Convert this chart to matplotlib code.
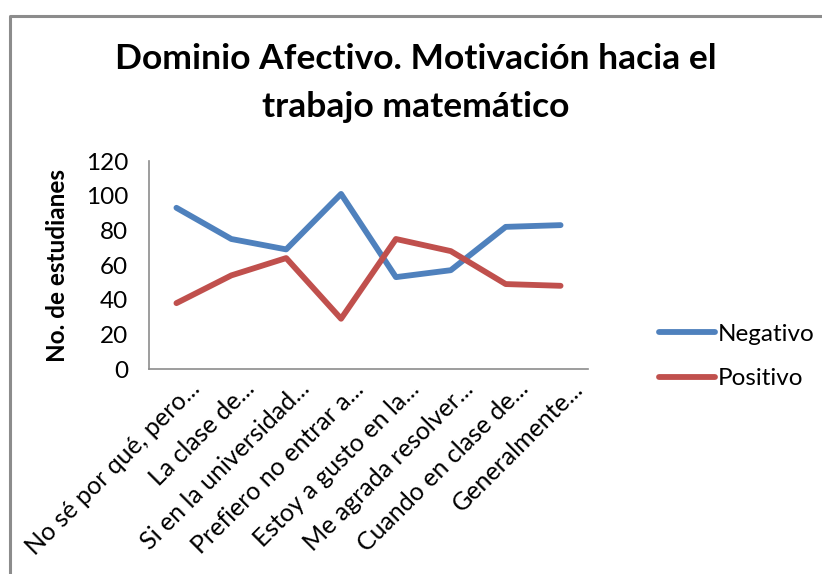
import matplotlib.pyplot as plt
from matplotlib.lines import Line2D
from matplotlib.transforms import ScaledTranslation

categorias = ['No sé por qué, pero...', 'La clase de...', 'Si en la universidad...',
              'Prefiero no entrar a...', 'Estoy a gusto en la...', 'Me agrada resolver...',
              'Cuando en clase de...', 'Generalmente...']
negativo = [93, 75, 69, 101, 53, 57, 82, 83]
positivo = [38, 54, 64, 29, 75, 68, 49, 48]

plt.rcParams['font.family'] = ['Lato', 'DejaVu Sans']

fig = plt.figure(figsize=(8.22, 5.74), dpi=100)
# borde del área del gráfico (solo se ve arriba y a la izquierda)
x0, y0 = 9.5 / 822, 1 - 15.5 / 574
fig.lines.append(Line2D([x0, x0, 1.0], [0.0, y0, y0], transform=fig.transFigure,
                        color='#8c8c8c', lw=2.2))

ax = fig.add_axes([149 / 822, 1 - 369 / 574, 439 / 822, 208 / 574])
x = range(len(categorias))
ax.plot(x, negativo, color='#4F81BD', lw=4.2, solid_capstyle='round', label='Negativo')
ax.plot(x, positivo, color='#C0504D', lw=4.2, solid_capstyle='round', label='Positivo')

ax.set_xlim(-0.5, len(categorias) - 0.5)
ax.set_ylim(0, 120)
ax.set_yticks(range(0, 121, 20))
ax.set_xticks(list(x))
ax.set_xticklabels([])
# etiquetas del eje x giradas, con su propio desplazamiento
desplaza = ScaledTranslation(11 / 100, -8 / 100, fig.dpi_scale_trans)
for i, cat in zip(x, categorias):
    ax.text(i, 0, cat, transform=ax.get_xaxis_transform() + desplaza,
            rotation=45, rotation_mode='anchor', ha='right', va='top', fontsize=18)
ax.tick_params(axis='y', length=0, labelsize=17.5, pad=15)
ax.tick_params(axis='x', length=0)
for s in ['top', 'right']:
    ax.spines[s].set_visible(False)
for s in ['left', 'bottom']:
    ax.spines[s].set_color('#8c8c8c')
    ax.spines[s].set_linewidth(1.2)

ax.set_ylabel('No. de estudianes', fontsize=17.5, fontweight='bold', labelpad=12)
fig.text(0.506, 1 - 83 / 574, 'Dominio Afectivo. Motivación hacia el\ntrabajo matemático',
         ha='center', va='center', fontsize=25.5, fontweight='bold', linespacing=1.62)

ax.legend(loc='center left', bbox_to_anchor=(1.112, 0.06), frameon=False, fontsize=17.5,
          handlelength=2.3, handletextpad=0.1, labelspacing=0.95)

plt.savefig('out.png')
